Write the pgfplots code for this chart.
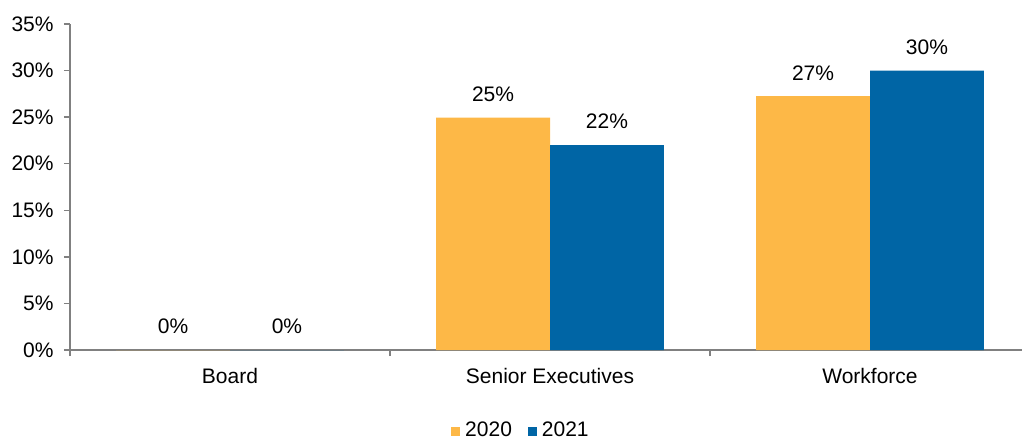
\documentclass[border=0pt]{standalone}
\usepackage{fontspec}
\setmainfont{Liberation Sans}
\usepackage{pgfplots}
\pgfplotsset{compat=1.18}
\definecolor{c2020}{RGB}{253,184,71}
\definecolor{c2021}{RGB}{0,101,165}
\definecolor{axgray}{RGB}{128,128,128}
\begin{document}
\fontsize{10.5pt}{12.6pt}\selectfont
\begin{tikzpicture}
\begin{axis}[
  scale only axis,
  width=476pt, height=163pt,
  /pgf/number format/assume math mode=true,
  ybar=0pt, bar width=0.356,
  xmin=-0.5, xmax=2.475,
  ymin=0, ymax=35,
  axis x line*=bottom, axis y line*=left,
  axis line style={axgray, line width=0.7pt},
  ytick={0,5,...,35},
  yticklabel={\pgfmathprintnumber{\tick}\%},
  tick align=outside,
  y tick style={axgray, line width=0.7pt},
  major tick length=3pt,
  xtick={0,1,2},
  xticklabels={Board,Senior Executives,Workforce},
  x tick style={draw=none},
  extra x ticks={-0.5,0.5,1.5},
  extra x tick labels={},
  extra x tick style={x tick style={axgray, line width=0.7pt, draw=axgray}},
  xticklabel style={inner sep=0pt, anchor=north, yshift=-5.8pt},
  yticklabel style={inner sep=0pt, anchor=east, xshift=-5pt},
  tick label style={font=\fontsize{10.5pt}{12.6pt}\selectfont},
  nodes near coords={\pgfmathprintnumber[fixed,precision=0]{\pgfplotspointmeta}\%},
  every node near coord/.append style={inner sep=0pt, anchor=south, yshift=7.8pt, font=\fontsize{10.5pt}{12.6pt}\selectfont, black},
  legend style={at={(0.4737,-0.2485)}, anchor=center, draw=none, legend columns=2,
    font=\fontsize{10.5pt}{12.6pt}\selectfont,
    /tikz/every even column/.append style={column sep=7pt},
    nodes={inner sep=1pt}},
  legend image code/.code={\fill[#1,draw=none] (0pt,-2.25pt) rectangle (4.5pt,2.25pt); \path (6pt,0pt);},
]
\addplot[fill=c2020, draw=none] coordinates {(0,0) (1,24.95) (2,27.25)};
\addplot[fill=c2021, draw=none] coordinates {(0,0) (1,22.0) (2,30.0)};
\legend{2020,2021}
\end{axis}
\pgfresetboundingbox
\path (-35pt,-44.5pt) rectangle (476.5pt,175pt);
\end{tikzpicture}
\end{document}
